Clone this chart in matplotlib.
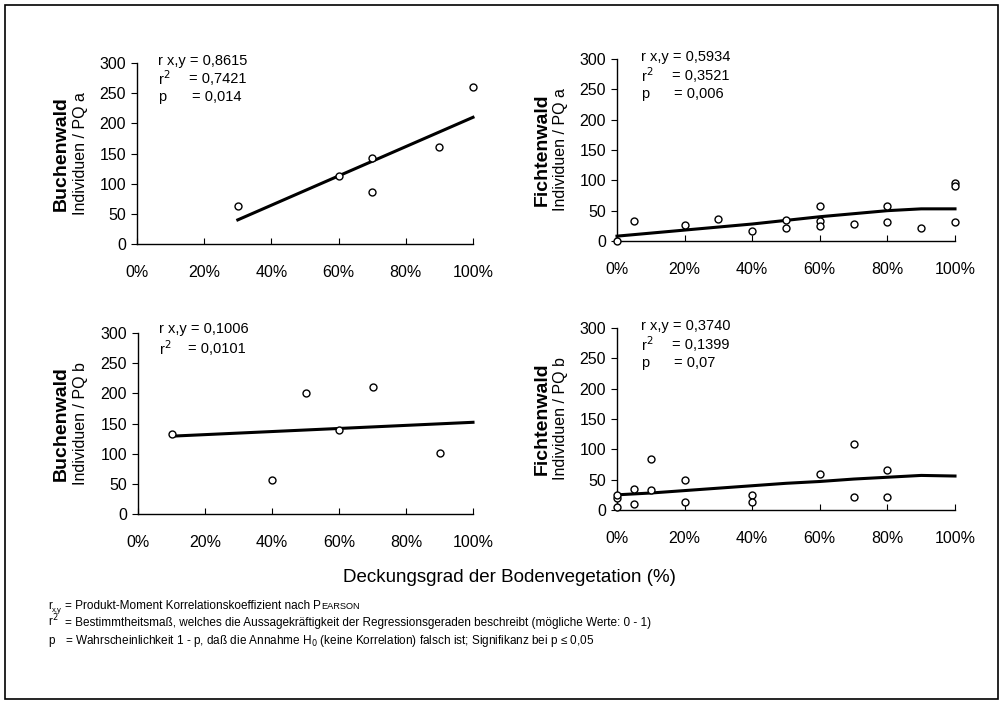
import matplotlib
matplotlib.use("Agg")
import matplotlib.pyplot as plt
from matplotlib.patches import Rectangle

plt.rcParams['font.family'] = ['Liberation Sans', 'DejaVu Sans']

W, H = 1005, 702

# ---------------- data ----------------
# Buchenwald PQ a
bw_a_x = [30, 60, 70, 70, 90, 100]
bw_a_y = [63, 113, 143, 87, 161, 260]
bw_a_trend_x = [30, 100]
bw_a_trend_y = [40, 210]

# Fichtenwald PQ a
fw_a_x = [0, 5, 20, 30, 40, 50, 50, 60, 60, 60, 70, 80, 80, 90, 100, 100, 100]
fw_a_y = [0, 33, 27, 37, 16, 22, 35, 58, 33, 25, 28, 58, 31, 22, 95, 90, 31]
fw_a_trend_x = [0, 10, 20, 30, 40, 50, 60, 70, 80, 90, 100]
fw_a_trend_y = [8, 13, 18, 23, 28, 34, 40, 45, 50, 53, 53]

# Buchenwald PQ b
bw_b_x = [10, 40, 50, 60, 70, 90]
bw_b_y = [132, 57, 201, 140, 210, 101]
bw_b_trend_x = [10, 100]
bw_b_trend_y = [129, 152]

# Fichtenwald PQ b
fw_b_x = [0, 0, 0, 5, 5, 10, 10, 20, 20, 40, 40, 60, 70, 70, 80, 80]
fw_b_y = [5, 20, 24, 35, 10, 84, 33, 49, 13, 25, 13, 60, 108, 22, 66, 22]
fw_b_trend_x = [0, 10, 20, 30, 40, 50, 60, 70, 80, 90, 100]
fw_b_trend_y = [25, 28, 32, 36, 40, 44, 47, 51, 54, 57, 56]

x_ticks = [0, 20, 40, 60, 80, 100]
x_tick_labels = ['0%', '20%', '40%', '60%', '80%', '100%']
y_ticks = [0, 50, 100, 150, 200, 250, 300]

panels = [
    dict(x=bw_a_x, y=bw_a_y, tx=bw_a_trend_x, ty=bw_a_trend_y,
         box=(137, 63, 473, 244), forest='Buchenwald', unit='Individuen / PQ a',
         lab_x=(61, 80),
         head='r x,y = 0,8615',
         stats=[('r$^2$', '= 0,7421'), ('p', '= 0,014')],
         st_x=158, st_eq=[189, 192], st_y=[61, 79, 97]),
    dict(x=fw_a_x, y=fw_a_y, tx=fw_a_trend_x, ty=fw_a_trend_y,
         box=(617, 59, 955, 241), forest='Fichtenwald', unit='Individuen / PQ a',
         lab_x=(542, 561),
         head='r x,y = 0,5934',
         stats=[('r$^2$', '= 0,3521'), ('p', '= 0,006')],
         st_x=641, st_eq=[672, 674], st_y=[57, 76, 94]),
    dict(x=bw_b_x, y=bw_b_y, tx=bw_b_trend_x, ty=bw_b_trend_y,
         box=(138, 333, 473, 514), forest='Buchenwald', unit='Individuen / PQ b',
         lab_x=(61, 80),
         head='r x,y = 0,1006',
         stats=[('r$^2$', '= 0,0101')],
         st_x=159, st_eq=[188], st_y=[329, 349]),
    dict(x=fw_b_x, y=fw_b_y, tx=fw_b_trend_x, ty=fw_b_trend_y,
         box=(617, 328, 955, 510), forest='Fichtenwald', unit='Individuen / PQ b',
         lab_x=(542, 561),
         head='r x,y = 0,3740',
         stats=[('r$^2$', '= 0,1399'), ('p', '= 0,07')],
         st_x=641, st_eq=[672, 674], st_y=[326, 345, 363]),
]

fig = plt.figure(figsize=(W / 100, H / 100), dpi=100)


def fx(px):
    return px / W


def fy(py):
    return 1 - py / H


STAT_FS = 10.5

for p in panels:
    x0, y0, x1, y1 = p['box']
    ax = fig.add_axes([fx(x0), fy(y1), fx(x1 - x0), (y1 - y0) / H])
    ax.plot(p['tx'], p['ty'], color='black', lw=2.2, zorder=2, clip_on=False)
    ax.plot(p['x'], p['y'], linestyle='none', marker='o', markersize=5,
            markerfacecolor='white', markeredgecolor='black',
            markeredgewidth=1.0, zorder=3, clip_on=False)
    ax.set_xlim(0, 100)
    ax.set_ylim(0, 300)
    ax.set_xticks(x_ticks)
    ax.set_xticklabels(x_tick_labels)
    ax.set_yticks(y_ticks)
    for s in ('top', 'right'):
        ax.spines[s].set_visible(False)
    for s in ('left', 'bottom'):
        ax.spines[s].set_linewidth(1.0)
    ax.tick_params(axis='x', direction='in', length=4, pad=15, labelsize=11.5)
    ax.tick_params(axis='y', direction='out', length=4, pad=4, labelsize=11.5)
    cy = (y0 + y1) / 2
    fig.text(fx(p['lab_x'][0]), fy(cy), p['forest'], rotation=90,
             fontsize=14, fontweight='bold', ha='center', va='center')
    fig.text(fx(p['lab_x'][1]), fy(cy), p['unit'], rotation=90,
             fontsize=11.5, ha='center', va='center')
    fig.text(fx(p['st_x']), fy(p['st_y'][0]), p['head'], fontsize=STAT_FS,
             ha='left', va='center')
    for (lab, val), ex, sy in zip(p['stats'], p['st_eq'], p['st_y'][1:]):
        fig.text(fx(p['st_x']), fy(sy), lab, fontsize=STAT_FS, ha='left', va='center')
        fig.text(fx(ex), fy(sy), val, fontsize=STAT_FS, ha='left', va='center')

fig.text(fx(509), fy(577), 'Deckungsgrad der Bodenvegetation (%)',
         fontsize=13.5, ha='center', va='center')

FOOT_FS = 8.5
foot_sym = ['r', 'r$^2$', 'p']
foot_txt = [
    '= Produkt-Moment Korrelationskoeffizient nach ',
    '= Bestimmtheitsmaß, welches die Aussagekräftigkeit der Regressionsgeraden beschreibt (mögliche Werte: 0 - 1)',
    '= Wahrscheinlichkeit 1 - p, daß die Annahme H$_0$ (keine Korrelation) falsch ist; Signifikanz bei p ≤ 0,05',
]
foot_y = [609, 626, 644]
renderer = fig.canvas.get_renderer()
for i, (sym, txt, yy) in enumerate(zip(foot_sym, foot_txt, foot_y)):
    fig.text(fx(48), fy(yy), sym, fontsize=FOOT_FS, ha='left', va='baseline')
    if i == 0:
        fig.text(fx(52), fy(yy + 2.5), 'x,y', fontsize=5.5, ha='left', va='baseline')
    t = fig.text(fx(65), fy(yy), txt, fontsize=FOOT_FS, ha='left', va='baseline')
    if i == 0:
        # small-caps "PEARSON"
        bb = t.get_window_extent(renderer=renderer)
        tp = fig.text(bb.x1 / W, fy(yy), 'P', fontsize=FOOT_FS, ha='left', va='baseline')
        bb2 = tp.get_window_extent(renderer=renderer)
        fig.text(bb2.x1 / W, fy(yy), 'EARSON', fontsize=FOOT_FS * 0.78,
                 ha='left', va='baseline')

# outer frame
fig.patches.append(Rectangle((fx(5), fy(699)), fx(993), (699 - 5) / H,
                             transform=fig.transFigure, fill=False,
                             edgecolor='black', lw=1.2))

fig.savefig('out.png', dpi=100)
